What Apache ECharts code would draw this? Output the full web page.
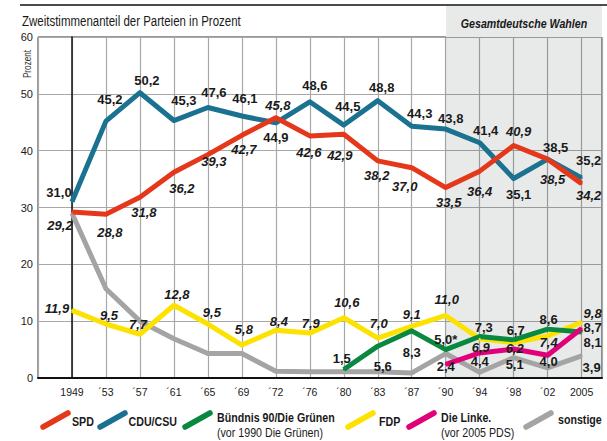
<!DOCTYPE html>
<html>
<head>
<meta charset="utf-8">
<script src="https://cdn.jsdelivr.net/npm/echarts@6/dist/echarts.min.js"></script>
<style>
  html, body { margin: 0; padding: 0; background: #fff; }
  #chart { width: 607px; height: 441px; }
</style>
</head>
<body>
<div id="chart"></div>
<script>
// election years (x axis labels)
var elections = ['1949', '´53', '´57', '´61', '´65', '´69', '´72', '´76', '´80', '´83', '´87', '´90', '´94', '´98', '´02', '2005'];

// Zweitstimmen in %
var spd      = [29.2, 28.8, 31.8, 36.2, 39.3, 42.7, 45.8, 42.6, 42.9, 38.2, 37.0, 33.5, 36.4, 40.9, 38.5, 34.2];
var cdu      = [31.0, 45.2, 50.2, 45.3, 47.6, 46.1, 44.9, 48.6, 44.5, 48.8, 44.3, 43.8, 41.4, 35.1, 38.5, 35.2];
var gruene   = [null, null, null, null, null, null, null, null, 1.5, 5.6, 8.3, 5.0, 7.3, 6.7, 8.6, 8.1];
var fdp      = [11.9, 9.5, 7.7, 12.8, 9.5, 5.8, 8.4, 7.9, 10.6, 7.0, 9.1, 11.0, 6.9, 6.2, 7.4, 9.8];
var linke    = [null, null, null, null, null, null, null, null, null, null, null, 2.4, 4.4, 5.1, 4.0, 8.7];
var sonstige = [29.0, 15.7, 10.0, 6.9, 4.3, 4.3, 1.2, 1.1, 1.1, 1.1, 0.9, 4.3, 1.0, 3.6, 1.8, 3.9];

var yTicks = [0, 10, 20, 30, 40, 50, 60];
var gesamtdeutschAb = 11; // index of ´90

// label offsets (px from the point), null = no label
var spdOff = [[-12, 13], [4, 18], [4, 15], [8, 16], [6, 7], [2, 14], [2, -12], [-1, 17], [-4, 21], [-1, 15], [-7, 19], [3, 15], [0, 20], [5, -14], [5, 20], [7, 12]];
var cduOff = [[-13, -9], [4, -22], [7, -12], [10, -20], [6, -15], [3, -17], [0, 15], [5, -16], [4, -19], [4, -13], [8, -13], [5, -11], [6, -12], [5, 16], [8, -12], [7, -17]];
var fdpOff = [[-15, -2], [3, -9], [-2, -10], [3, -11], [4, -12], [2, -16], [3, -9], [1, -10], [3, -15], [1, -15], [0, -12], [1, -16], [1, 9], [1, 6], [1, 7], [11, -9]];
var grueneOff = [null, null, null, null, null, null, null, null, [-2, -11], [5, 20], [0, 22], [0, -10], [4, -9], [2, -9], [1, -10], [11, 11]];
var linkeOff = [null, null, null, null, null, null, null, null, null, null, null, [0, 2], [0, 9], [1, 15], [1, 6], [11, -1]];
var sonstigeOff = [null, null, null, null, null, null, null, null, null, null, null, null, null, null, null, [10, 12]];

var sans = "'Liberation Sans', Arial, Helvetica, sans-serif";
var narrowScale = 0.82; // Helvetica Condensed look
var ink = '#1a1a1a';

var colors = {
  spd: '#e5381b',
  cdu: '#1b7290',
  gruene: '#08893f',
  fdp: '#fde200',
  linke: '#e2007a',
  sonstige: '#a4a4a4'
};

function fmt(v) {
  return v.toFixed(1).replace('.', ',');
}

function makeSeries(name, values, offsets, color, italic, note) {
  var data = [];
  values.forEach(function (v, i) {
    if (v == null) return;
    var off = offsets[i];
    var item = { value: [i, v], label: { show: off != null } };
    if (off) item.label.offset = off;
    if (note && note[i]) item.label.formatter = fmt(v) + note[i];
    data.push(item);
  });
  return {
    name: name,
    type: 'line',
    data: data,
    symbol: 'circle',
    symbolSize: 2,
    itemStyle: { color: color },
    lineStyle: { color: color, width: 5, join: 'round' },
    label: {
      position: 'inside',
      formatter: function (p) { return fmt(p.value[1]); },
      fontFamily: sans,
      fontWeight: 'bold',
      fontStyle: italic ? 'italic' : 'normal',
      fontSize: 13,
      color: ink
    },
    emphasis: { disabled: true },
    silent: true
  };
}

var series = [
  makeSeries('sonstige', sonstige, sonstigeOff, colors.sonstige, false),
  makeSeries('FDP', fdp, fdpOff, colors.fdp, true),
  makeSeries('Bündnis 90/Die Grünen', gruene, grueneOff, colors.gruene, false, { 11: '*' }),
  makeSeries('Die Linke.', linke, linkeOff, colors.linke, false),
  makeSeries('CDU/CSU', cdu, cduOff, colors.cdu, false),
  makeSeries('SPD', spd, spdOff, colors.spd, true)
];

// shaded "Gesamtdeutsche Wahlen" area
series[0].markArea = {
  silent: true,
  itemStyle: { color: 'rgba(30,45,45,0.1)' },
  data: [[{ xAxis: gesamtdeutschAb }, { xAxis: 15.6 }]]
};

// legend drawn by hand (slanted line icons)
var legendNames = ['SPD', 'CDU/CSU', 'Bündnis 90/Die Grünen', 'FDP', 'Die Linke.', 'sonstige'];
var legendSubs = ['', '', '(vor 1990 Die Grünen)', '', '(vor 2005 PDS)', ''];
var legendColors = [colors.spd, colors.cdu, colors.gruene, colors.fdp, colors.linke, colors.sonstige];
var legendX = [40, 97, 182, 345, 406, 523];
var legendTextX = [72, 128.5, 217, 379, 441, 558];

function narrowText(x, y, text, size, weight, style, align, fill) {
  return {
    type: 'text', x: x, y: y, scaleX: narrowScale,
    style: {
      text: text, align: align || 'left', verticalAlign: 'middle',
      fontFamily: sans, fontSize: size, fontWeight: weight || 'normal',
      fontStyle: style || 'normal', fill: fill || ink
    }
  };
}

var graphics = [
  { type: 'line', shape: { x1: 20, y1: 5, x2: 607, y2: 5 }, style: { stroke: '#111', lineWidth: 1.5 } },
  { type: 'rect', shape: { x: 446, y: 6, width: 156, height: 31 }, style: { fill: '#e8e9e9' } },
  narrowText(524, 24, 'Gesamtdeutsche Wahlen', 13, 'bold', 'italic', 'center'),
  narrowText(22, 21, 'Zweitstimmenanteil der Parteien in Prozent', 14),
  { type: 'text', x: 28, y: 64, rotation: Math.PI / 2, scaleX: narrowScale,
    style: { text: 'Prozent', align: 'center', verticalAlign: 'middle', fontFamily: sans, fontSize: 10, fill: '#333' } }
];

legendNames.forEach(function (n, i) {
  var x = legendX[i];
  graphics.push({ type: 'line', shape: { x1: x + 3, y1: 427, x2: x + 28, y2: 413 }, style: { stroke: legendColors[i], lineWidth: 5.5, lineCap: 'round' } });
  var two = legendSubs[i] !== '';
  var ty = two ? 417.5 : (i === 5 ? 420 : 422);
  graphics.push(narrowText(legendTextX[i], ty, n, 13, 'bold'));
  if (two) {
    graphics.push(narrowText(legendTextX[i], 432.5, legendSubs[i], 13));
  }
});

var chart = echarts.init(document.getElementById('chart'), null, { renderer: 'svg' });
chart.setOption({
  animation: false,
  backgroundColor: '#fff',
  grid: {
    left: 38, right: 5, top: 37, bottom: 63,
    show: true, borderColor: '#333', borderWidth: 1,
    containLabel: false, outerBoundsMode: 'none'
  },
  xAxis: {
    type: 'value',
    min: -1,
    max: 15.6,
    interval: 1,
    axisLine: { lineStyle: { color: '#111', width: 2 } },
    axisTick: { show: false },
    splitLine: { show: true, lineStyle: { color: '#a8a8a8', width: 1.2 } },
    axisLabel: {
      margin: 8,
      fontFamily: sans,
      fontSize: 10.5,
      color: ink,
      formatter: function (v) {
        return (Math.abs(v - Math.round(v)) < 1e-6 && v >= 0 && v < elections.length) ? elections[Math.round(v)] : '';
      }
    }
  },
  yAxis: {
    type: 'value',
    min: yTicks[0],
    max: yTicks[yTicks.length - 1],
    interval: 10,
    axisLine: { show: true, lineStyle: { color: '#111', width: 1.5 } },
    axisTick: { show: false },
    splitLine: { show: true, lineStyle: { color: '#a8a8a8', width: 1.2 } },
    axisLabel: { margin: 5, fontFamily: sans, fontSize: 11, color: ink }
  },
  graphic: graphics,
  series: series
});
</script>
</body>
</html>
